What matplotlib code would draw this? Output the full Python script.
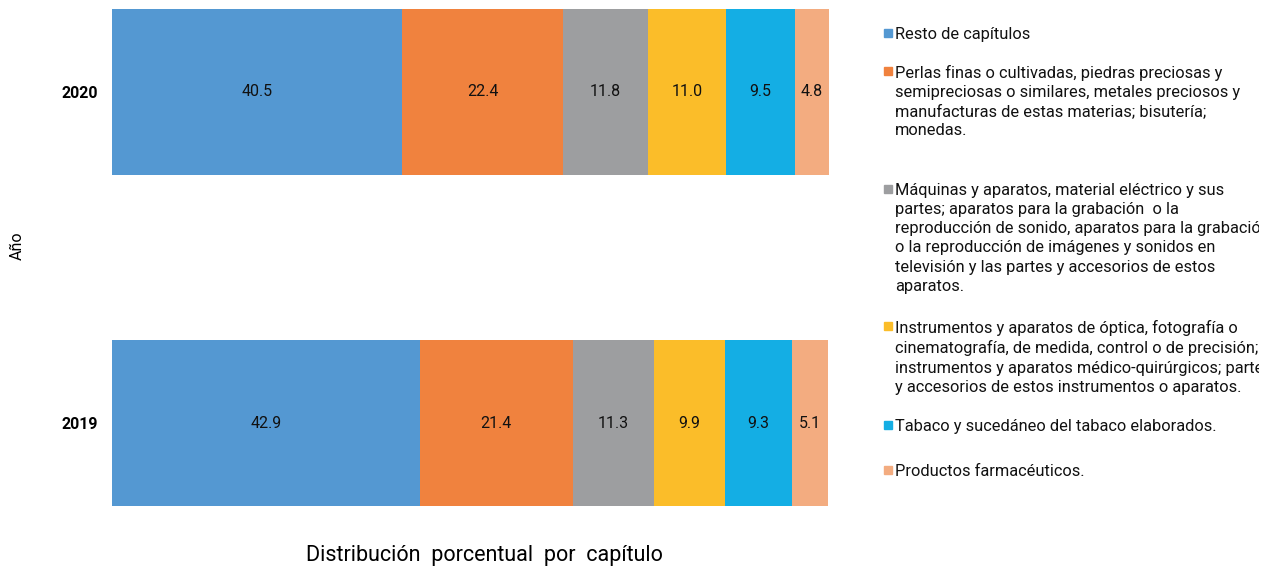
import matplotlib
matplotlib.use('Agg')
import matplotlib.pyplot as plt

plt.rcParams['font.family'] = ['Roboto', 'DejaVu Sans']

years = ['2019', '2020']
chapters = [
    'Resto de capítulos',
    'Perlas finas o cultivadas, piedras preciosas y\nsemipreciosas o similares, metales preciosos y\n'
    'manufacturas de estas materias; bisutería;\nmonedas.',
    'Máquinas y aparatos, material eléctrico y sus\npartes; aparatos para la grabación  o la\n'
    'reproducción de sonido, aparatos para la grabación\no la reproducción de imágenes y sonidos en\n'
    'televisión y las partes y accesorios de estos\naparatos.',
    'Instrumentos y aparatos de óptica, fotografía o\ncinematografía, de medida, control o de precisión;\n'
    'instrumentos y aparatos médico-quirúrgicos; partes\ny accesorios de estos instrumentos o aparatos.',
    'Tabaco y sucedáneo del tabaco elaborados.',
    'Productos farmacéuticos.',
]
share_2019 = [42.9, 21.4, 11.3, 9.9, 9.3, 5.1]
share_2020 = [40.5, 22.4, 11.8, 11.0, 9.5, 4.8]
colors = ['#5498D2', '#F0823E', '#9D9EA0', '#FBBD29', '#14AEE4', '#F3AC80']

fig = plt.figure(figsize=(12.74, 5.69), dpi=100)
ax = fig.add_axes([112 / 1274, 1 - 506 / 569, (829 - 112) / 1274, (506 - 9) / 569])

for yi, vals in enumerate([share_2019, share_2020]):
    left = 0
    for v, c in zip(vals, colors):
        ax.barh(yi, v, left=left, height=0.5, color=c)
        ax.text(left + v / 2, yi, f'{v:.1f}', ha='center', va='center', fontsize=11.5, color='#111111')
        left += v

ax.set_xlim(0, 100)
ax.set_ylim(-0.25, 1.25)
ax.set_yticks([0, 1])
ax.set_yticklabels(years, fontweight='bold', fontsize=11.5)
ax.tick_params(axis='y', length=0, pad=10)
ax.set_xticks([])
for s in ax.spines.values():
    s.set_visible(False)

fig.text(17 / 1274, 1 - 246 / 569, 'Año', rotation=90, ha='center', va='center', fontsize=11.5)
fig.text(484 / 1274, 1 - 556 / 569, 'Distribución  porcentual  por  capítulo',
         ha='center', va='center', fontsize=15.5)

# legend drawn by hand (the original clips at the right edge)
lax = fig.add_axes([0, 0, 1259 / 1274, 1])
lax.set_xlim(0, 1259)
lax.set_ylim(569, 0)
lax.axis('off')
entry_y = [33, 71, 189, 326, 425, 470]
for txt, c, y in zip(chapters, colors, entry_y):
    lax.add_patch(plt.Rectangle((884, y - 4), 8, 8, color=c))
    lax.text(895, y - 6.5, txt, ha='left', va='top', fontsize=11.8, linespacing=1.36,
             color='#111111', clip_on=True)

fig.savefig('out.png', dpi=100)
